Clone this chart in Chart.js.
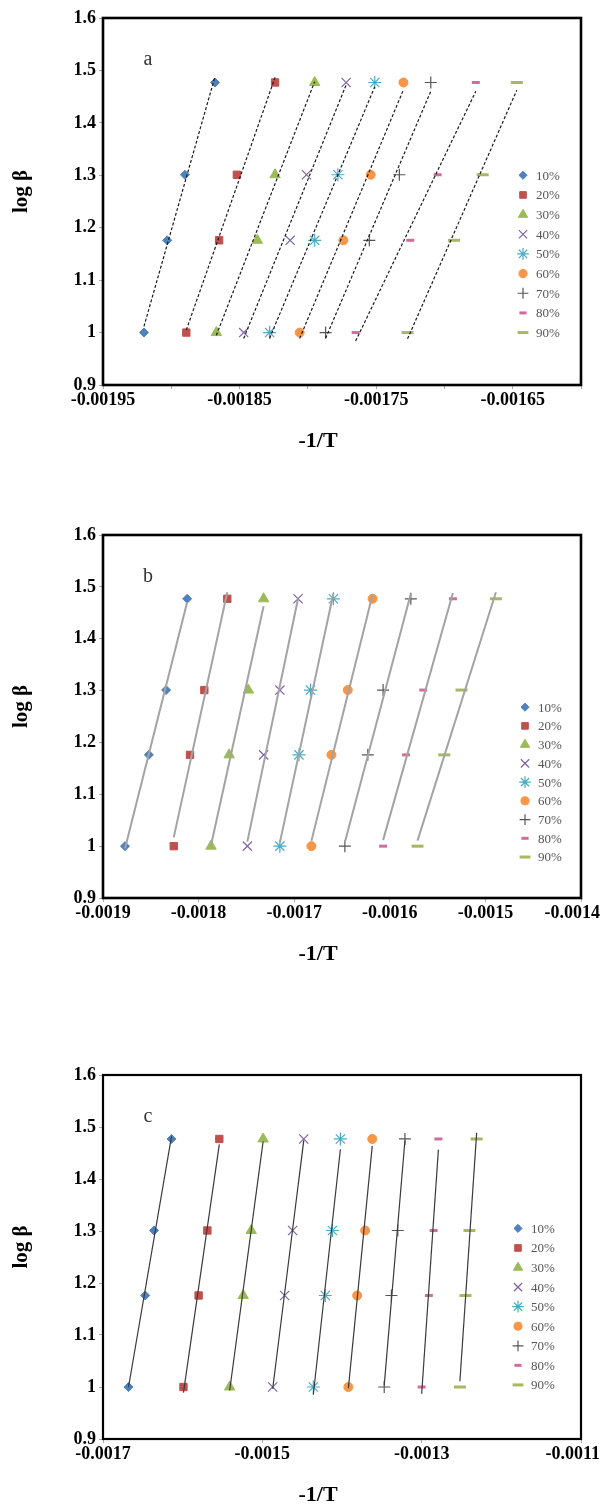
<!DOCTYPE html>
<html><head><meta charset="utf-8">
<script src="https://cdn.jsdelivr.net/npm/chart.js@4.4.1/dist/chart.umd.min.js"></script>
<style>
html,body{margin:0;padding:0;background:#fff;width:603px;height:1504px;overflow:hidden}
.box{position:absolute;left:0;width:603px}
canvas{display:block}
</style></head><body>
<div class="box" style="top:0;height:470px"><canvas id="ca" width="603" height="470"></canvas></div>
<div class="box" style="top:510px;height:480px"><canvas id="cb" width="603" height="480"></canvas></div>
<div class="box" style="top:1050px;height:454px"><canvas id="cc" width="603" height="454"></canvas></div>
<script>
// ---------- data ----------
const SERIES = ['10%','20%','30%','40%','50%','60%','70%','80%','90%'];
const LOG_BETA = [1, 1.176, 1.301, 1.477];

const A_X = [
  [-0.001920,-0.001903,-0.001890,-0.001868],
  [-0.001889,-0.001865,-0.001852,-0.001824],
  [-0.001867,-0.001837,-0.001824,-0.001795],
  [-0.001847,-0.001813,-0.001801,-0.001772],
  [-0.001828,-0.001795,-0.001778,-0.001751],
  [-0.001806,-0.001774,-0.001754,-0.001730],
  [-0.001787,-0.001755,-0.001733,-0.001710],
  [-0.001765,-0.001725,-0.001705,-0.001677],
  [-0.001727,-0.001693,-0.001672,-0.001647]
];
const B_X = [
  [-0.001877,-0.001852,-0.001834,-0.001812],
  [-0.001826,-0.001809,-0.001794,-0.001770],
  [-0.001787,-0.001768,-0.001748,-0.001732],
  [-0.001749,-0.001732,-0.001715,-0.001696],
  [-0.001715,-0.001695,-0.001683,-0.001659],
  [-0.001682,-0.001661,-0.001644,-0.001618],
  [-0.001647,-0.001623,-0.001607,-0.001578],
  [-0.001607,-0.001583,-0.001565,-0.001534],
  [-0.001571,-0.001543,-0.001525,-0.001489]
];
const C_X = [
  [-0.001668,-0.001647,-0.001636,-0.001614],
  [-0.001599,-0.001580,-0.001569,-0.001554],
  [-0.001541,-0.001524,-0.001514,-0.001499],
  [-0.001487,-0.001472,-0.001462,-0.001448],
  [-0.001436,-0.001421,-0.001412,-0.001402],
  [-0.001392,-0.001381,-0.001371,-0.001362],
  [-0.001347,-0.001338,-0.001330,-0.001321],
  [-0.001300,-0.001291,-0.001285,-0.001279],
  [-0.001252,-0.001245,-0.001240,-0.001231]
];

const A_XTICKS  = [-0.00195,-0.0019,-0.00185,-0.0018,-0.00175,-0.0017,-0.00165,-0.0016];
const A_XLABELS = ['-0.00195','','-0.00185','','-0.00175','','-0.00165',''];
const B_XTICKS  = [-0.0019,-0.0018,-0.0017,-0.0016,-0.0015,-0.0014];
const B_XLABELS = ['-0.0019','-0.0018','-0.0017','-0.0016','-0.0015','-0.0014'];
const C_XTICKS  = [-0.0017,-0.0015,-0.0013,-0.0011];
const C_XLABELS = ['-0.0017','-0.0015','-0.0013','-0.0011'];
const Y_TICKS  = [0.9,1,1.1,1.2,1.3,1.4,1.5,1.6];
const Y_LABELS = ['0.9','1','1.1','1.2','1.3','1.4','1.5','1.6'];

const X_TITLE = '-1/T';
const Y_TITLE = 'log β';
const PANELS = ['a','b','c'];

// ---------- styles ----------
const COLORS = ['#4F81BD','#C0504D','#9BBB59','#8064A2','#4BACC6','#F79646','#555555','#CF6E9C','#A6B862'];
const STYLES = ['rectRot','rect','triangle','crossRot','star','circle','cross','line','line'];
const RADII  = [4.5,5.2,6,6.5,6.5,4.5,6,4,6];
const BWIDTH = [1,1,1,1.2,1.2,1,1.2,3,3];
const SERIF = "'Liberation Serif','Times New Roman',serif";

function linfit(xs, ys){
  const n = xs.length;
  const mx = xs.reduce((a,b)=>a+b,0)/n, my = ys.reduce((a,b)=>a+b,0)/n;
  let sxy=0,sxx=0;
  for(let i=0;i<n;i++){sxy+=(xs[i]-mx)*(ys[i]-my);sxx+=(xs[i]-mx)*(xs[i]-mx);}
  const b = sxy/sxx; return {a: my-b*mx, b};
}

function makeChart(id, X, xTicks, xLabels, cfg){
  const canvas = document.getElementById(id);
  const H = canvas.height;
  const datasets = [];
  X.forEach((xs,i)=>{
    const f = linfit(xs, LOG_BETA);
    const x0 = Math.min(...xs), x1 = Math.max(...xs);
    datasets.push({type:'line', label:'_trend', data:[{x:x0,y:f.a+f.b*x0},{x:x1,y:f.a+f.b*x1}],
      borderColor:cfg.trendColor, borderWidth:cfg.trendWidth, borderDash:cfg.trendDash,
      pointRadius:0, pointHoverRadius:0, fill:false, order:0, tension:0});
  });
  X.forEach((xs,i)=>{
    datasets.push({type:'scatter', label:SERIES[i], data:xs.map((x,k)=>({x, y:LOG_BETA[k]})),
      pointStyle:STYLES[i], pointRadius:RADII[i], pointHoverRadius:RADII[i],
      pointBorderWidth:BWIDTH[i], backgroundColor:COLORS[i], borderColor:COLORS[i], order:1});
  });

  const frame = {id:'frame', afterDraw(ch){
    const {ctx, chartArea:a} = ch;
    ctx.save(); ctx.strokeStyle='#000'; ctx.lineWidth=cfg.frameWidth;
    ctx.strokeRect(a.left, a.top, a.right-a.left, a.bottom-a.top); ctx.restore();
  }};
  const legendIn = {id:'legendIn', afterDraw(ch){
    const ctx = ch.ctx, ys = ch.scales.y;
    ctx.save();
    SERIES.forEach((s,i)=>{
      const v = cfg.legTop - i*(cfg.legTop-cfg.legBottom)/(SERIES.length-1);
      const y = ys.getPixelForValue(v);
      ctx.fillStyle = COLORS[i]; ctx.strokeStyle = COLORS[i]; ctx.lineWidth = BWIDTH[i];
      Chart.helpers.drawPoint(ctx, {pointStyle:STYLES[i], radius:RADII[i]*0.9, rotation:0, borderWidth:BWIDTH[i]}, cfg.legX, y);
      ctx.fillStyle = '#555'; ctx.font = "13px " + SERIF; ctx.textAlign='left'; ctx.textBaseline='middle';
      ctx.fillText(s, cfg.legX + 13, y+1);
    });
    ctx.restore();
  }};
  const texts = {id:'texts', afterDraw(ch){
    const ctx = ch.ctx, a = ch.chartArea, ys = ch.scales.y;
    ctx.save();
    ctx.fillStyle='#333'; ctx.font = "20px " + SERIF; ctx.textAlign='center'; ctx.textBaseline='middle';
    ctx.fillText(cfg.panel, 148, ys.getPixelForValue(1.52));
    ctx.fillStyle='#000'; ctx.font = "bold 22px " + SERIF;
    ctx.fillText(X_TITLE, 318, a.bottom + 56);
    ctx.translate(22, (a.top+a.bottom)/2 - 10); ctx.rotate(-Math.PI/2);
    ctx.font = "bold 21px " + SERIF;
    ctx.fillText(Y_TITLE, 0, 0);
    ctx.restore();
  }};
  const fitLabels = {id:'fitLabels', beforeDraw(ch){
    const s = ch.scales.x, items = s.getLabelItems(), ctx = ch.ctx;
    items.forEach(it=>{
      if(!it.label) return;
      ctx.font = it.font.string;
      const w = ctx.measureText(it.label).width;
      const x = it.options.translation[0];
      if (x + w/2 > ch.width - 3) it.options.translation[0] = ch.width - 3 - w/2;
    });
  }};

  const tickFont = {family:SERIF, size:18, weight:'bold'};
  return new Chart(canvas, {
    data:{datasets},
    options:{
      responsive:false, animation:false, events:[],
      layout:{padding:{left:0, right:603-cfg.right, top:cfg.top, bottom:0}},
      plugins:{legend:{display:false}, tooltip:{enabled:false}},
      scales:{
        x:{type:'linear', position:'bottom', min:xTicks[0], max:xTicks[xTicks.length-1],
          afterBuildTicks:s=>{s.ticks = xTicks.map(v=>({value:v}));},
          afterFit:s=>{s.height = H - cfg.bottom; s.paddingLeft=0; s.paddingRight=0;},
          ticks:{autoSkip:false, maxRotation:0, minRotation:0, padding:1, color:'#000', font:tickFont,
            callback:(v,i)=>xLabels[i]},
          grid:{drawOnChartArea:false, drawTicks:true, tickLength:4, color:'#aaaaaa'},
          border:{display:false}},
        y:{type:'linear', min:0.9, max:1.6,
          afterBuildTicks:s=>{s.ticks = Y_TICKS.map(v=>({value:v}));},
          afterFit:s=>{s.width = cfg.left; s.paddingTop=0; s.paddingBottom=0;},
          ticks:{padding:3, color:'#000', font:tickFont, callback:(v,i)=>Y_LABELS[i]},
          grid:{drawOnChartArea:false, drawTicks:true, tickLength:4, color:'#aaaaaa'},
          border:{display:false}}
      }
    },
    plugins:[fitLabels, frame, legendIn, texts]
  });
}

makeChart('ca', A_X, A_XTICKS, A_XLABELS, {panel:PANELS[0], top:18, bottom:385, left:103, right:581,
  trendColor:'#1a1a1a', trendWidth:1.2, trendDash:[3,2], frameWidth:2.6, legTop:1.3, legBottom:1.0, legX:523});
makeChart('cb', B_X, B_XTICKS, B_XLABELS, {panel:PANELS[1], top:25, bottom:388, left:103, right:581,
  trendColor:'#a3a3a3', trendWidth:2, trendDash:[], frameWidth:2.6, legTop:1.268, legBottom:0.979, legX:525});
makeChart('cc', C_X, C_XTICKS, C_XLABELS, {panel:PANELS[2], top:25, bottom:389, left:103, right:581,
  trendColor:'#3a3a3a', trendWidth:1.2, trendDash:[], frameWidth:2.2, legTop:1.305, legBottom:1.004, legX:518});
</script>
</body></html>
